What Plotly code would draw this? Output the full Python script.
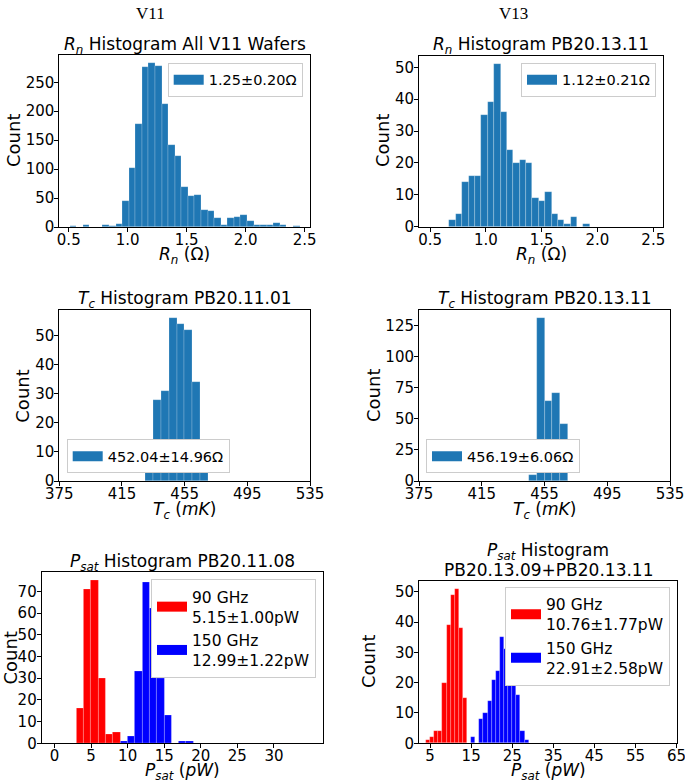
import numpy as np
import plotly.graph_objects as go

# ---------------- data ----------------
rn_v11_start, rn_v11_width = 0.51, 0.0557
rn_v11_counts = [1, 0, 3, 0, 0, 4, 2, 5, 45, 102, 178, 277, 283, 278, 213, 141, 122, 69, 54, 55,
                 30, 28, 15, 4, 15, 18, 20, 11, 3, 4, 4, 7, 3, 0, 1]
rn_v11_label = "1.25±0.20Ω"

rn_v13_start, rn_v13_width = 0.673, 0.0572
rn_v13_counts = [2, 4, 14, 16, 16, 35, 39, 51, 36, 24, 20, 21, 20, 9, 8, 11, 4, 2, 1, 3, 0, 1]
rn_v13_label = "1.12±0.21Ω"

tc_v11_start, tc_v11_width = 430, 5
tc_v11_counts = [3, 28, 31, 56, 54, 52, 34, 4]
tc_v11_label = "452.04±14.96Ω"

tc_v13_start, tc_v13_width = 445, 5
tc_v13_counts = [5, 131, 64, 71, 46]
tc_v13_label = "456.19±6.06Ω"

ps_v11_90_start, ps_v11_150_start, ps_width = 3, 9, 1
ps_v11_90_counts = [16, 71, 75, 30, 4, 5]
ps_v11_150_counts = [1, 3, 33, 74, 62, 30, 13, 0, 1, 1]
ps_v11_labels = ["90 GHz<br>5.15±1.00pW", "150 GHz<br>12.99±1.22pW"]

ps_v13_90_start, ps_v13_150_start = 4, 15
ps_v13_90_counts = [1, 2, 4, 4, 20, 39, 49, 51, 38, 15]
ps_v13_150_counts = [2, 0, 8, 10, 14, 21, 24, 35, 31, 35, 26, 16, 4, 1]
ps_v13_labels = ["90 GHz<br>10.76±1.77pW", "150 GHz<br>22.91±2.58pW"]

rn_ticks = [0.5, 1.0, 1.5, 2.0, 2.5]
tc_ticks = [375, 415, 455, 495, 535]
ps_v11_ticks = [0, 5, 10, 15, 20, 25, 30]
ps_v13_ticks = [5, 15, 25, 35, 45, 55, 65]

W, H = 685, 782
TAB_BLUE = "#1f77b4"
FONT = "DejaVu Sans"


def px_x(v):
    return v / W


def px_y(v):
    return 1 - v / H


fig = go.Figure()


def add_hist(n, start, width, counts, color):
    counts = np.asarray(counts)
    centers = start + (np.arange(len(counts)) + 0.5) * width
    fig.add_trace(go.Bar(
        x=centers, y=counts, width=[width] * len(counts),
        marker=dict(color=color, line=dict(color="rgba(255,255,255,0.35)", width=0.6)),
        xaxis="x" if n == 1 else f"x{n}", yaxis="y" if n == 1 else f"y{n}",
        showlegend=False, hoverinfo="skip"))


def add_legend_entry(n, name, color):
    fig.add_trace(go.Scatter(
        x=[None], y=[None], mode="lines", line=dict(color=color, width=10), name=name,
        xaxis="x" if n == 1 else f"x{n}", yaxis="y" if n == 1 else f"y{n}",
        legend="legend" if n == 1 else f"legend{n}", showlegend=True))


add_hist(1, rn_v11_start, rn_v11_width, rn_v11_counts, TAB_BLUE)
add_legend_entry(1, rn_v11_label, TAB_BLUE)
add_hist(2, rn_v13_start, rn_v13_width, rn_v13_counts, TAB_BLUE)
add_legend_entry(2, rn_v13_label, TAB_BLUE)
add_hist(3, tc_v11_start, tc_v11_width, tc_v11_counts, TAB_BLUE)
add_legend_entry(3, tc_v11_label, TAB_BLUE)
add_hist(4, tc_v13_start, tc_v13_width, tc_v13_counts, TAB_BLUE)
add_legend_entry(4, tc_v13_label, TAB_BLUE)
add_hist(5, ps_v11_90_start, ps_width, ps_v11_90_counts, "red")
add_hist(5, ps_v11_150_start, ps_width, ps_v11_150_counts, "blue")
add_legend_entry(5, ps_v11_labels[0], "red")
add_legend_entry(5, ps_v11_labels[1], "blue")
add_hist(6, ps_v13_90_start, ps_width, ps_v13_90_counts, "red")
add_hist(6, ps_v13_150_start, ps_width, ps_v13_150_counts, "blue")
add_legend_entry(6, ps_v13_labels[0], "red")
add_legend_entry(6, ps_v13_labels[1], "blue")

# panel geometry in pixels: (left, right, top, bottom)
panels = {
    1: (59.3, 310, 55, 227),
    2: (419, 663.3, 56, 226.7),
    3: (59.3, 310, 310, 481),
    4: (419, 670, 310, 481),
    5: (41.7, 323.3, 572.3, 743.3),
    6: (419, 676.7, 581, 743.3),
}
xranges = {1: [0.42, 2.545], 2: [0.40, 2.59], 3: [375, 535], 4: [375, 535],
           5: [-1.75, 36.75], 6: [2.3, 65.05]}
xticks = {1: rn_ticks, 2: rn_ticks, 3: tc_ticks, 4: tc_ticks, 5: ps_v11_ticks, 6: ps_v13_ticks}
ymax = {1: max(rn_v11_counts), 2: max(rn_v13_counts), 3: max(tc_v11_counts),
        4: max(tc_v13_counts), 5: max(ps_v11_90_counts + ps_v11_150_counts),
        6: max(ps_v13_90_counts + ps_v13_150_counts)}
ydtick = {1: 50, 2: 10, 3: 10, 4: 25, 5: 10, 6: 10}

axis_common = dict(showline=True, mirror=True, linecolor="black", linewidth=1,
                   ticks="outside", ticklen=4, tickcolor="black", showgrid=False,
                   zeroline=False, automargin=False, ticklabeloverflow="allow",
                   tickfont=dict(family=FONT, size=15, color="black"))

layout = {}
for n, (l, r, t, b) in panels.items():
    xk = "xaxis" if n == 1 else f"xaxis{n}"
    yk = "yaxis" if n == 1 else f"yaxis{n}"
    xa = dict(axis_common, domain=[px_x(l), px_x(r)], range=xranges[n],
              tickmode="array", tickvals=xticks[n], ticklabelstandoff=-5,
              anchor="y" if n == 1 else f"y{n}")
    if n in (1, 2):
        xa["ticktext"] = [f"{v:.1f}" for v in xticks[n]]
    layout[xk] = xa
    layout[yk] = dict(axis_common, domain=[px_y(b), px_y(t)], range=[0, ymax[n] * 1.05],
                      dtick=ydtick[n], ticklabelstandoff=-3,
                      anchor="x" if n == 1 else f"x{n}")

legend_style = dict(bgcolor="white", bordercolor="#cccccc", borderwidth=1,
                    font=dict(family=FONT, size=14.5, color="black"))
legend_style_ps = dict(legend_style, font=dict(family=FONT, size=15.5, color="black"),
                       tracegroupgap=2)
layout["legend"] = dict(legend_style, x=px_x(302.7), y=px_y(62.7), xanchor="right", yanchor="top")
layout["legend2"] = dict(legend_style, x=px_x(656), y=px_y(62.7), xanchor="right", yanchor="top")
layout["legend3"] = dict(legend_style, x=px_x(66.7), y=px_y(473.3), xanchor="left", yanchor="bottom")
layout["legend4"] = dict(legend_style, x=px_x(426), y=px_y(473.3), xanchor="left", yanchor="bottom")
layout["legend5"] = dict(legend_style_ps, x=px_x(316), y=px_y(579), xanchor="right", yanchor="top")
layout["legend6"] = dict(legend_style_ps, x=px_x(670), y=px_y(586.7), xanchor="right", yanchor="top")

fig.update_layout(**layout)

annots = []


def text(x, y, s, size=17, family=FONT, angle=0):
    annots.append(dict(x=px_x(x), y=px_y(y), xref="paper", yref="paper", text=s,
                       showarrow=False, xanchor="center", yanchor="middle", textangle=angle,
                       font=dict(family=family, size=size, color="black")))


text(150, 13, "V11", size=17, family="Liberation Serif")
text(513, 13, "V13", size=17, family="Liberation Serif")
text(184.5, 45, "<i>R</i><sub><i>n</i></sub> Histogram All V11 Wafers")
text(541, 45, "<i>R</i><sub><i>n</i></sub> Histogram PB20.13.11")
text(184.5, 300, "<i>T</i><sub><i>c</i></sub> Histogram PB20.11.01")
text(544.5, 300, "<i>T</i><sub><i>c</i></sub> Histogram PB20.13.11")
text(182.5, 562, "<i>P</i><sub><i>sat</i></sub> Histogram PB20.11.08")
text(548, 551, "<i>P</i><sub><i>sat</i></sub> Histogram")
text(548, 570, "PB20.13.09+PB20.13.11")

text(184.5, 255, "<i>R</i><sub><i>n</i></sub> (Ω)")
text(541, 255, "<i>R</i><sub><i>n</i></sub> (Ω)")
text(184.5, 510, "<i>T</i><sub><i>c</i></sub> (<i>mK</i>)")
text(544.5, 510, "<i>T</i><sub><i>c</i></sub> (<i>mK</i>)")
text(182.5, 771, "<i>P</i><sub><i>sat</i></sub> (<i>pW</i>)")
text(548, 771, "<i>P</i><sub><i>sat</i></sub> (<i>pW</i>)")

text(14, 141, "Count", size=18, angle=-90)
text(383, 141, "Count", size=18, angle=-90)
text(21.7, 396, "Count", size=18, angle=-90)
text(373, 396, "Count", size=18, angle=-90)
text(9.5, 658, "Count", size=18, angle=-90)
text(368, 662, "Count", size=18, angle=-90)

fig.update_layout(annotations=annots, width=W, height=H, template="none",
                  margin=dict(l=0, r=0, t=0, b=0, autoexpand=False),
                  paper_bgcolor="white", plot_bgcolor="white",
                  barmode="overlay", bargap=0)

fig.write_html("out.html", config={"displayModeBar": False},
               post_script="document.body.style.margin='0';document.body.style.overflow='hidden';")
